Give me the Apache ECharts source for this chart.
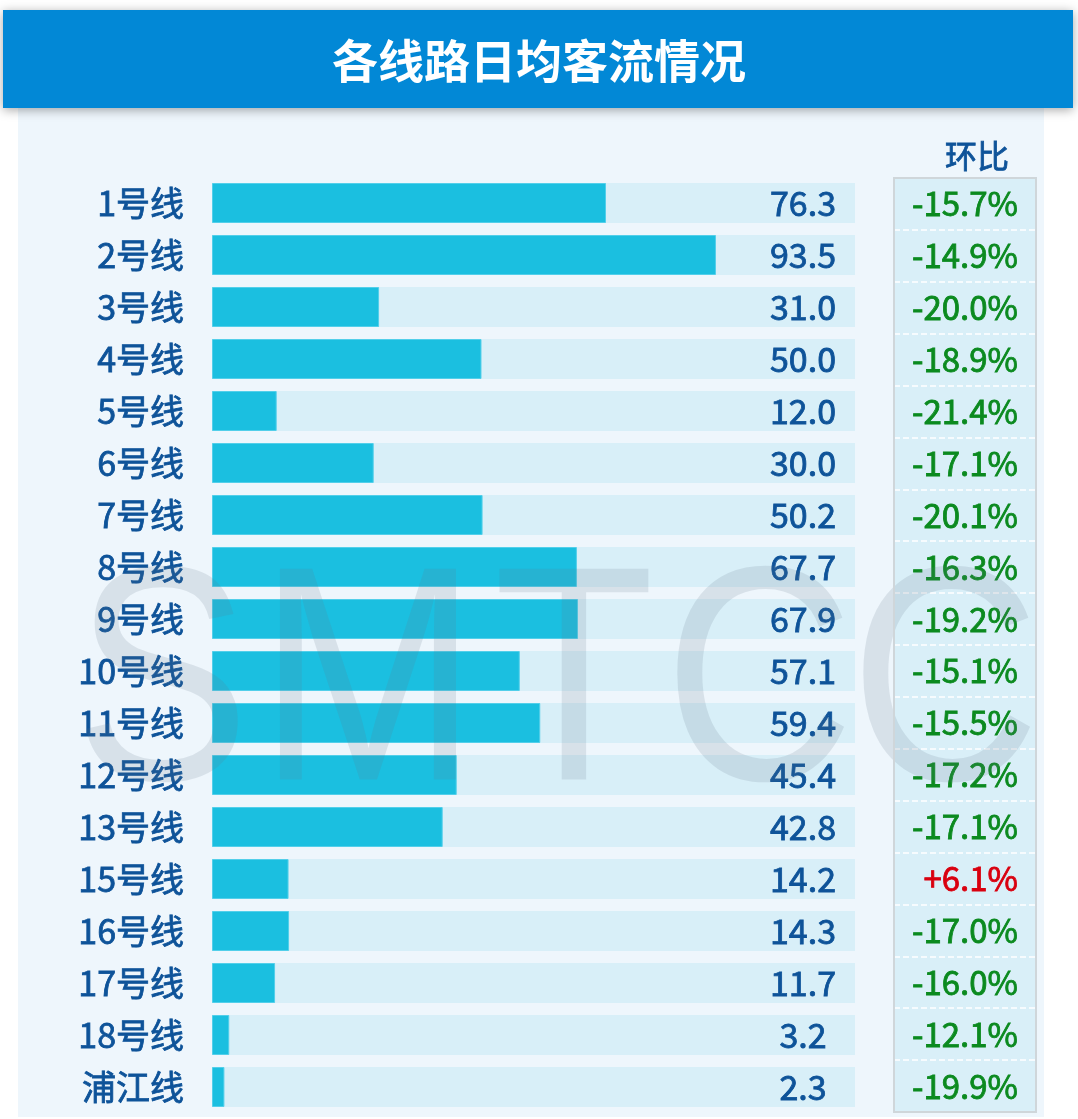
<!DOCTYPE html>
<html>
<head>
<meta charset="utf-8">
<title>各线路日均客流情况</title>
<script src="https://cdn.jsdelivr.net/npm/echarts@6/dist/echarts.min.js"></script>
<style>
html,body{margin:0;padding:0;background:#fff;}
#chart{width:1078px;height:1119px;}
</style>
</head>
<body>
<div id="chart"></div>
<script>
//线路
var lines = ['1号线','2号线','3号线','4号线','5号线','6号线','7号线','8号线','9号线','10号线','11号线','12号线','13号线','15号线','16号线','17号线','18号线','浦江线'];
//日均客流(标注数值)
var flowLabels = [76.3,93.5,31.0,50.0,12.0,30.0,50.2,67.7,67.9,57.1,59.4,45.4,42.8,14.2,14.3,11.7,3.2,2.3];
//条形长度(按图中条形读出)
var flowBars = [73.1,93.5,31.0,50.0,12.0,30.0,50.2,67.7,67.9,57.1,60.9,45.4,42.8,14.2,14.3,11.7,3.2,2.3];
//环比
var ratios = ['-15.7%','-14.9%','-20.0%','-18.9%','-21.4%','-17.1%','-20.1%','-16.3%','-19.2%','-15.1%','-15.5%','-17.2%','-17.1%','+6.1%','-17.0%','-16.0%','-12.1%','-19.9%'];
//横轴上限
var axisMax = 119.3;
//水印
var markText = ['S','M','T','C','C'];
var markX = [162,368,574,759,945];

var font = '"Noto Sans CJK SC","Noto Sans",sans-serif';
var darkBlue = '#0e5399';
var green = '#0b8a1f';
var red = '#d9000f';

var graphics = [
    {type:'rect', z:-10, shape:{x:18,y:108,width:1026,height:1009}, style:{fill:'#eef6fc'}},
    {type:'rect', z:-5, shape:{x:3,y:10,width:1070,height:98},
        style:{fill:'#0288d6', shadowBlur:10, shadowColor:'rgba(0,0,0,0.35)', shadowOffsetY:2}},
    {type:'text', x:977, y:156, style:{text:'环比', fill:darkBlue, stroke:darkBlue, lineWidth:0.8, font:'32px '+font, textAlign:'center', textVerticalAlign:'middle'}},
    //环比框线
    {type:'rect', z:60, silent:true, shape:{x:894,y:178,width:142,height:934}, style:{fill:null, stroke:'#cfd6da', lineWidth:2}}
];
for(var i=0;i<markText.length;i++){
    graphics.push({
        type:'text', z:50, silent:true, x:markX[i], y:695, scaleX:0.86,
        style:{text:markText[i], fill:'rgba(100,120,135,0.16)', font:'306px "Liberation Sans",sans-serif', textAlign:'center', textVerticalAlign:'middle'}
    });
}

var myChart = echarts.init(document.getElementById('chart'));
var option = {
    animation:false,
    title:{
        text:'各线路日均客流情况',
        left:'center',
        top:33,
        textStyle:{color:'#fff', fontSize:46, fontWeight:'bold', fontFamily:font}
    },
    graphic:graphics,
    grid:[
        {left:212, width:643, top:177, height:936},
        {left:894, width:142, top:178, height:934, show:true, backgroundColor:'#d9eff8', borderWidth:0}
    ],
    xAxis:[
        {gridIndex:0, type:'value', min:0, max:axisMax, show:false},
        {gridIndex:1, type:'value', show:false}
    ],
    yAxis:[
        {
            gridIndex:0, type:'category', data:lines, inverse:true,
            axisLine:{show:false}, axisTick:{show:false}, splitLine:{show:false},
            axisLabel:{margin:28, color:darkBlue, fontSize:34, fontFamily:font, textBorderColor:darkBlue, textBorderWidth:0.8}
        },
        {
            gridIndex:1, type:'category', data:lines, inverse:true,
            axisLine:{show:false}, axisTick:{show:false},
            splitLine:{show:true, lineStyle:{color:'#ffffff', type:'dashed', width:1.5}},
            axisLabel:{
                inside:true, margin:124, align:'right',
                formatter:function(v,idx){
                    var r = ratios[idx];
                    return r.charAt(0)=='+' ? '{r|'+r+'}' : '{g|'+r+'}';
                },
                rich:{
                    g:{color:green, fontSize:33, fontFamily:font, textBorderColor:green, textBorderWidth:0.8},
                    r:{color:red, fontSize:33, fontFamily:font, textBorderColor:red, textBorderWidth:0.8}
                }
            }
        }
    ],
    series:[
        {
            type:'bar', xAxisIndex:0, yAxisIndex:0,
            data:flowBars, barWidth:40,
            itemStyle:{color:'#1bbfe0', borderColor:'#52cfea', borderWidth:1},
            showBackground:true,
            backgroundStyle:{color:'#d8eff8'},
            label:{
                show:true, position:[591,20], align:'center', verticalAlign:'middle',
                color:darkBlue, fontSize:34, fontFamily:font, textBorderColor:darkBlue, textBorderWidth:0.8,
                formatter:function(p){ return flowLabels[p.dataIndex].toFixed(1); }
            }
        }
    ]
};
myChart.setOption(option);
</script>
</body>
</html>
